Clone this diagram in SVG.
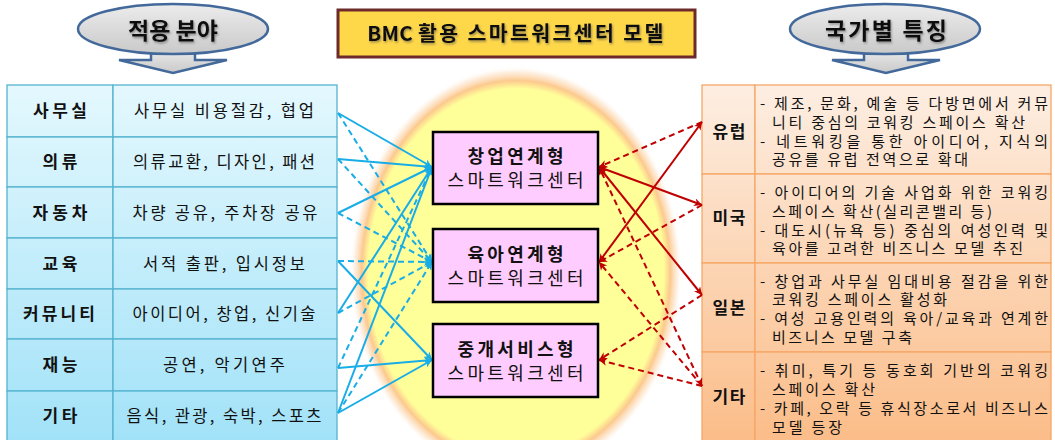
<svg xmlns="http://www.w3.org/2000/svg" width="1055" height="440" viewBox="0 0 1055 440">
  <style>
    text { font-family: "Noto Sans CJK KR", "Noto Sans", "Liberation Sans", sans-serif; fill: #111; }
    .hdr { font-size: 23px; font-weight: bold; text-anchor: middle; }
    .ttl { font-size: 20.5px; font-weight: bold; text-anchor: middle; }
    .lab { font-size: 17px; font-weight: bold; text-anchor: middle; }
    .dsc { font-size: 16.5px; text-anchor: middle; }
    .rlab { font-size: 17px; font-weight: bold; text-anchor: middle; }
    .rtx { font-size: 15px; }
    .n1 { font-size: 18px; font-weight: bold; text-anchor: middle; }
    .n2 { font-size: 18px; text-anchor: middle; }
    .lcell { fill: url(#gBlue); stroke: #55b3d0; stroke-width: 1.3; }
    .rcell { fill: url(#gPeach); stroke: #f6a766; stroke-width: 1.3; }
    .node { fill: #ffccff; stroke: #000; stroke-width: 2.5; }
    .bl { stroke: #18ade6; stroke-width: 2; fill: none; marker-end: url(#arrB); }
    .rd { stroke: #c00000; stroke-width: 2; fill: none; marker-end: url(#arrR); }
    .both { marker-start: url(#arrRs); }
    .dash { stroke-dasharray: 6 4; }
    .oval { fill: url(#gGray); stroke: #43699b; stroke-width: 2.5; }
  </style>
  <defs>
    <linearGradient id="gBlue" gradientUnits="userSpaceOnUse" x1="0" y1="85" x2="0" y2="440">
      <stop offset="0" stop-color="#e4f8fe"/>
      <stop offset="1" stop-color="#a2e2f8"/>
    </linearGradient>
    <linearGradient id="gPeach" gradientUnits="userSpaceOnUse" x1="0" y1="85" x2="0" y2="440">
      <stop offset="0" stop-color="#fdeee2"/>
      <stop offset="1" stop-color="#fbbd89"/>
    </linearGradient>
    <linearGradient id="gGray" x1="0" y1="0" x2="0" y2="1">
      <stop offset="0" stop-color="#ececec"/>
      <stop offset="1" stop-color="#c9c9c9"/>
    </linearGradient>
    <radialGradient id="gGlow" cx="0.5" cy="0.5" r="0.5">
      <stop offset="0" stop-color="#ffff9a"/>
      <stop offset="0.89" stop-color="#ffff9a"/>
      <stop offset="0.93" stop-color="#fcc98e"/>
      <stop offset="0.97" stop-color="#fde3c8" stop-opacity="0.6"/>
      <stop offset="1" stop-color="#ffffff" stop-opacity="0"/>
    </radialGradient>
    <filter id="shadow" x="-10%" y="-30%" width="120%" height="160%">
      <feDropShadow dx="1" dy="1.5" stdDeviation="0.8" flood-color="#444" flood-opacity="0.55"/>
    </filter>
    <marker id="arrB" viewBox="0 0 10 10" refX="10" refY="5" markerWidth="11" markerHeight="8" markerUnits="userSpaceOnUse" orient="auto">
      <path d="M0,0 L10,5 L0,10 L3,5 z" fill="#18ade6"/>
    </marker>
    <marker id="arrR" viewBox="0 0 10 10" refX="10" refY="5" markerWidth="11" markerHeight="8" markerUnits="userSpaceOnUse" orient="auto">
      <path d="M0,0 L10,5 L0,10 L3,5 z" fill="#c00000"/>
    </marker>
    <marker id="arrRs" viewBox="0 0 10 10" refX="0" refY="5" markerWidth="11" markerHeight="8" markerUnits="userSpaceOnUse" orient="auto">
      <path d="M10,0 L0,5 L10,10 L7,5 z" fill="#c00000"/>
    </marker>
  </defs>

  <rect width="1055" height="440" fill="#ffffff"/>

  <!-- glow behind the three centre types -->
  <ellipse cx="516" cy="272" rx="166" ry="206" fill="url(#gGlow)"/>

  <!-- header: application fields -->
  <g id="hdr-left">
    <polygon class="oval" points="151,48 151,60 119,60 173,73 227,60 195,60 195,48"/>
    <ellipse class="oval" cx="173" cy="29" rx="95" ry="25"/>
    <text class="hdr" x="173" y="39" filter="url(#shadow)">적용 분야</text>
  </g>

  <!-- header: model title -->
  <g id="title">
    <rect x="338" y="10" width="357" height="47" fill="#ffd84a" stroke="#6e2a2a" stroke-width="3"/>
    <text class="ttl" x="516.5" y="41" filter="url(#shadow)"><tspan letter-spacing="0.3">BMC </tspan><tspan letter-spacing="2.4">활용 스마트워크센터 모델</tspan></text>
  </g>

  <!-- header: per-country features -->
  <g id="hdr-right">
    <polygon class="oval" points="864,48 864,60 832,60 886,73 940,60 908,60 908,48"/>
    <ellipse class="oval" cx="885" cy="29" rx="95" ry="25"/>
    <text class="hdr" x="886" y="39" textLength="122" lengthAdjust="spacing" filter="url(#shadow)">국가별 특징</text>
  </g>

  <!-- left table: fields -->
  <g id="field-office">
    <rect class="lcell" x="7" y="85" width="106" height="52"/>
    <rect class="lcell" x="113" y="85" width="224" height="52"/>
    <text class="lab" x="60" y="117" textLength="54" lengthAdjust="spacing">사무실</text>
    <text class="dsc" x="224" y="117" textLength="180" lengthAdjust="spacing">사무실 비용절감, 협업</text>
  </g>
  <g id="field-clothing">
    <rect class="lcell" x="7" y="137" width="106" height="50"/>
    <rect class="lcell" x="113" y="137" width="224" height="50"/>
    <text class="lab" x="60" y="168" textLength="35" lengthAdjust="spacing">의류</text>
    <text class="dsc" x="224" y="168" textLength="182" lengthAdjust="spacing">의류교환, 디자인, 패션</text>
  </g>
  <g id="field-car">
    <rect class="lcell" x="7" y="187" width="106" height="51"/>
    <rect class="lcell" x="113" y="187" width="224" height="51"/>
    <text class="lab" x="60" y="219" textLength="55" lengthAdjust="spacing">자동차</text>
    <text class="dsc" x="225" y="219" textLength="185" lengthAdjust="spacing">차량 공유, 주차장 공유</text>
  </g>
  <g id="field-education">
    <rect class="lcell" x="7" y="238" width="106" height="51"/>
    <rect class="lcell" x="113" y="238" width="224" height="51"/>
    <text class="lab" x="60" y="270" textLength="35" lengthAdjust="spacing">교육</text>
    <text class="dsc" x="224" y="270" textLength="162" lengthAdjust="spacing">서적 출판, 입시정보</text>
  </g>
  <g id="field-community">
    <rect class="lcell" x="7" y="289" width="106" height="50"/>
    <rect class="lcell" x="113" y="289" width="224" height="50"/>
    <text class="lab" x="59" y="320" textLength="72" lengthAdjust="spacing">커뮤니티</text>
    <text class="dsc" x="224" y="320" textLength="183" lengthAdjust="spacing">아이디어, 창업, 신기술</text>
  </g>
  <g id="field-talent">
    <rect class="lcell" x="7" y="339" width="106" height="52"/>
    <rect class="lcell" x="113" y="339" width="224" height="52"/>
    <text class="lab" x="60" y="371" textLength="35" lengthAdjust="spacing">재능</text>
    <text class="dsc" x="224" y="371" textLength="122" lengthAdjust="spacing">공연, 악기연주</text>
  </g>
  <g id="field-other">
    <rect class="lcell" x="7" y="391" width="106" height="52"/>
    <rect class="lcell" x="113" y="391" width="224" height="52"/>
    <text class="lab" x="60" y="422" textLength="35" lengthAdjust="spacing">기타</text>
    <text class="dsc" x="224" y="422" textLength="195" lengthAdjust="spacing">음식, 관광, 숙박, 스포츠</text>
  </g>

  <!-- right table: countries -->
  <g id="country-europe">
    <rect class="rcell" x="702" y="85" width="53" height="89"/>
    <rect class="rcell" x="755" y="85" width="296" height="89"/>
    <text class="rlab" x="729" y="138" textLength="33" lengthAdjust="spacing">유럽</text>
    <text class="rtx" x="760" y="108.5" textLength="288" lengthAdjust="spacing">- 제조, 문화, 예술 등 다방면에서 커뮤</text>
    <text class="rtx" x="772" y="127.5" textLength="253" lengthAdjust="spacing">니티 중심의 코워킹 스페이스 확산</text>
    <text class="rtx" x="760" y="146.5" textLength="288" lengthAdjust="spacing">- 네트워킹을 통한 아이디어, 지식의</text>
    <text class="rtx" x="772" y="165" textLength="196" lengthAdjust="spacing">공유를 유럽 전역으로 확대</text>
  </g>
  <g id="country-usa">
    <rect class="rcell" x="702" y="174" width="53" height="89"/>
    <rect class="rcell" x="755" y="174" width="296" height="89"/>
    <text class="rlab" x="729" y="224" textLength="33" lengthAdjust="spacing">미국</text>
    <text class="rtx" x="760" y="198" textLength="288" lengthAdjust="spacing">- 아이디어의 기술 사업화 위한 코워킹</text>
    <text class="rtx" x="772" y="216.5" textLength="220" lengthAdjust="spacing">스페이스 확산(실리콘밸리 등)</text>
    <text class="rtx" x="760" y="235.5" textLength="288" lengthAdjust="spacing">- 대도시(뉴욕 등) 중심의 여성인력 및</text>
    <text class="rtx" x="772" y="253.5" textLength="251" lengthAdjust="spacing">육아를 고려한 비즈니스 모델 추진</text>
  </g>
  <g id="country-japan">
    <rect class="rcell" x="702" y="263" width="53" height="89"/>
    <rect class="rcell" x="755" y="263" width="296" height="89"/>
    <text class="rlab" x="729" y="314" textLength="33" lengthAdjust="spacing">일본</text>
    <text class="rtx" x="760" y="286.5" textLength="288" lengthAdjust="spacing">- 창업과 사무실 임대비용 절감을 위한</text>
    <text class="rtx" x="772" y="305" textLength="175" lengthAdjust="spacing">코워킹 스페이스 활성화</text>
    <text class="rtx" x="760" y="324" textLength="288" lengthAdjust="spacing">- 여성 고용인력의 육아/교육과 연계한</text>
    <text class="rtx" x="772" y="342.5" textLength="140" lengthAdjust="spacing">비즈니스 모델 구축</text>
  </g>
  <g id="country-other">
    <rect class="rcell" x="702" y="352" width="53" height="92"/>
    <rect class="rcell" x="755" y="352" width="296" height="92"/>
    <text class="rlab" x="729" y="403" textLength="33" lengthAdjust="spacing">기타</text>
    <text class="rtx" x="760" y="376" textLength="288" lengthAdjust="spacing">- 취미, 특기 등 동호회 기반의 코워킹</text>
    <text class="rtx" x="772" y="395" textLength="103" lengthAdjust="spacing">스페이스 확산</text>
    <text class="rtx" x="760" y="413.5" textLength="288" lengthAdjust="spacing">- 카페, 오락 등 휴식장소로서 비즈니스</text>
    <text class="rtx" x="772" y="432.5" textLength="70" lengthAdjust="spacing">모델 등장</text>
  </g>

  <!-- connectors -->
  <g id="connectors">
    <!-- fields to centre types -->
    <line class="bl" x1="338" y1="113" x2="432" y2="167"/>
    <line class="bl dash" x1="338" y1="113" x2="432" y2="262"/>
    <line class="bl" x1="338" y1="159" x2="432" y2="167"/>
    <line class="bl dash" x1="338" y1="159" x2="432" y2="262"/>
    <line class="bl" x1="338" y1="213" x2="432" y2="167"/>
    <line class="bl dash" x1="338" y1="213" x2="432" y2="262"/>
    <line class="bl dash" x1="338" y1="261" x2="432" y2="262"/>
    <line class="bl" x1="338" y1="261" x2="432" y2="360"/>
    <line class="bl" x1="338" y1="313" x2="432" y2="167"/>
    <line class="bl dash" x1="338" y1="313" x2="432" y2="262"/>
    <line class="bl dash" x1="338" y1="368" x2="432" y2="167"/>
    <line class="bl" x1="338" y1="368" x2="432" y2="360"/>
    <line class="bl" x1="338" y1="413" x2="432" y2="167"/>
    <line class="bl dash" x1="338" y1="413" x2="432" y2="262"/>
    <line class="bl" x1="338" y1="413" x2="432" y2="360"/>
    <!-- countries to centre types -->
    <line class="rd dash" x1="702" y1="122" x2="599" y2="167"/>
    <line class="rd both" x1="702" y1="122" x2="599" y2="262"/>
    <line class="rd both" x1="702" y1="205" x2="599" y2="167"/>
    <line class="rd dash" x1="702" y1="205" x2="599" y2="262"/>
    <line class="rd both" x1="702" y1="295" x2="599" y2="167"/>
    <line class="rd dash" x1="702" y1="295" x2="599" y2="360"/>
    <line class="rd dash both" x1="702" y1="386" x2="599" y2="167"/>
    <line class="rd dash" x1="702" y1="386" x2="599" y2="262"/>
    <line class="rd dash" x1="702" y1="386" x2="599" y2="360"/>
  </g>

  <!-- centre types -->
  <g id="type-startup">
    <rect class="node" x="433" y="132" width="165" height="72"/>
    <text class="n1" x="515.5" y="163" textLength="96" lengthAdjust="spacing">창업연계형</text>
    <text class="n2" x="515.5" y="186.5" textLength="136" lengthAdjust="spacing">스마트워크센터</text>
  </g>
  <g id="type-childcare">
    <rect class="node" x="433" y="229" width="165" height="73"/>
    <text class="n1" x="515.5" y="261" textLength="96" lengthAdjust="spacing">육아연계형</text>
    <text class="n2" x="515.5" y="284.5" textLength="136" lengthAdjust="spacing">스마트워크센터</text>
  </g>
  <g id="type-brokerage">
    <rect class="node" x="433" y="324" width="165" height="73"/>
    <text class="n1" x="515.5" y="356" textLength="116" lengthAdjust="spacing">중개서비스형</text>
    <text class="n2" x="515.5" y="379.5" textLength="136" lengthAdjust="spacing">스마트워크센터</text>
  </g>
</svg>
